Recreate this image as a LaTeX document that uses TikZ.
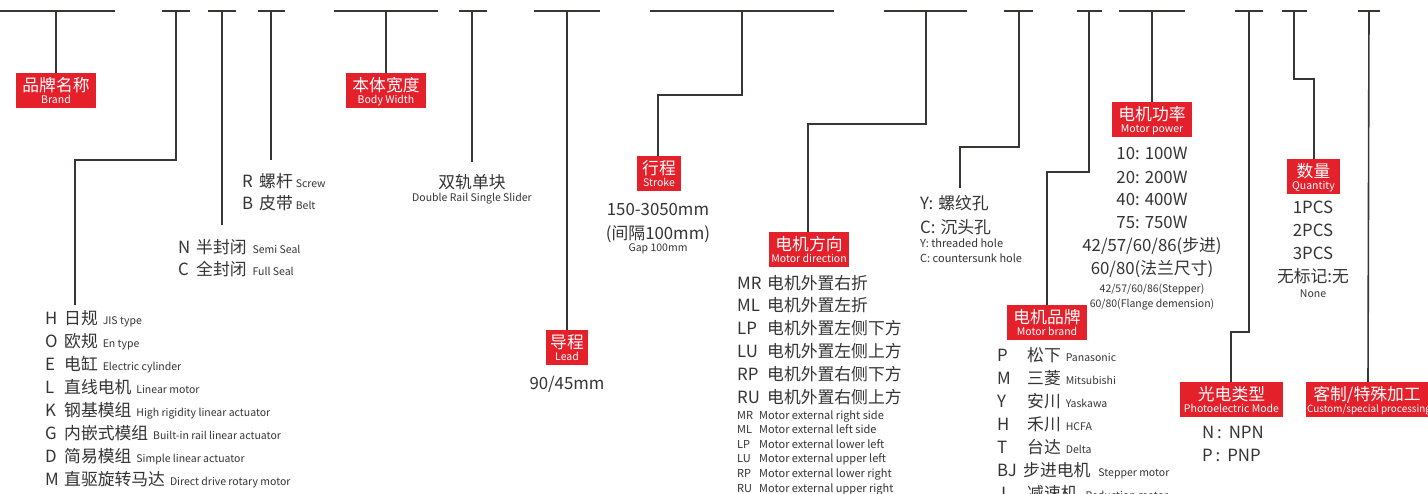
\documentclass[tikz,border=0pt]{standalone}
\usepackage{fontspec}
\setmainfont{Noto Sans CJK SC}
\usetikzlibrary{calc}
\definecolor{linec}{HTML}{3A3535}
\definecolor{redc}{HTML}{E4202B}
\definecolor{txtc}{HTML}{333333}
\newcommand\fcn{\fontsize{16.8}{18}\selectfont}
\newcommand\fen{\fontsize{10.5}{12}\selectfont}
\newcommand\fsm{\fontsize{11}{13}\selectfont}
\tikzset{
  ln/.style={draw=linec, line width=1.6pt},
  rbox/.style={fill=redc, inner sep=0pt, minimum height=35pt},
  wcn/.style={text=white, font=\fcn, anchor=base, inner sep=0pt},
  wen/.style={text=white, font=\fen, anchor=base, inner sep=0pt},
  tx/.style={text=txtc, font=\fcn, inner sep=0pt, anchor=base west},
  txc/.style={text=txtc, font=\fcn, inner sep=0pt, anchor=base},
  txs/.style={text=txtc, font=\fsm, inner sep=0pt, anchor=base west},
  txsc/.style={text=txtc, font=\fen, inner sep=0pt, anchor=base},
}
\newcommand\redlabel[6]{%
  \node[rbox, minimum width=#4pt, anchor=north] (#1) at (#2,#3) {};
  \node[wcn] (#1cn) at (#2,#3+18) {#5};
  \node[wen] (#1en) at (#2,#3+30.5) {#6};
}
\begin{document}
\begin{tikzpicture}[x=1pt,y=-1pt]
\useasboundingbox (0,0) rectangle (1428,493);
% ---------- top bars ----------
\foreach \a/\b/\n in {0/115/1,162/190/2,208/236/3,258/285/4,334/438/5,459/487/6,534/600/7,650/834/8,884/967/9,1004/1033/10,1077/1102/11,1119/1185/12,1235/1263/13,1282/1307/14,1358/1380/15}
  \draw[ln] (\a,11) -- (\b,11);
\coordinate (t1) at (56,11);
\coordinate (t2) at (176,11);
\coordinate (t3) at (222,11);
\coordinate (t4) at (271,11);
\coordinate (t5) at (386,11);
\coordinate (t6) at (472,11);
\coordinate (t7) at (567,11);
\coordinate (t8) at (742,11);
\coordinate (t9) at (926,11);
\coordinate (t10) at (1019,11);
\coordinate (t11) at (1089,11);
\coordinate (t12) at (1152,11);
\coordinate (t13) at (1249,11);
\coordinate (t14) at (1294,11);
\coordinate (t15) at (1369,11);
% ---------- red labels ----------
\redlabel{brand}{56}{73}{80}{品牌名称}{Brand}
\redlabel{width}{386}{73}{80}{本体宽度}{Body Width}
\redlabel{lead}{567}{330}{42}{导程}{Lead}
\redlabel{stroke}{659}{156}{44}{行程}{Stroke}
\redlabel{mdir}{809}{232}{80}{电机方向}{Motor direction}
\redlabel{mpow}{1152}{102}{80}{电机功率}{Motor power}
\redlabel{mbrand}{1047}{305}{80}{电机品牌}{Motor brand}
\redlabel{qty}{1313.5}{159}{53}{数量}{Quantity}
\redlabel{photo}{1231.5}{382}{103}{光电类型}{Photoelectric Mode}
\node[rbox, minimum width=125pt, anchor=north] (cust) at (1368,382) {};
\node[wcn] (custcn) at (1367,400) {客制/特殊加工};
\node[wen, anchor=base west, font=\fontsize{9.9}{12}\selectfont] (custen) at (1307,412.5) {Custom/special processing};
% ---------- end coordinates ----------
\coordinate (e2) at (75,305);
\coordinate (e3) at (222,225);
\coordinate (e4) at (271,160);
\coordinate (e6) at (472,162);
\coordinate (e10) at (960,188);
% ---------- connectors ----------
\draw[ln] (t1) -- (brand.north);
\draw[ln] (t2) -- (176,160) -| (e2);
\draw[ln] (t3) -- (e3);
\draw[ln] (t4) -- (e4);
\draw[ln] (t5) -- (width.north);
\draw[ln] (t6) -- (e6);
\draw[ln] (t7) -- (lead.north);
\draw[ln] (t8) -- (742,95) -| (658,156);
\draw[ln] (t9) -- (926,124) -| (808,232);
\draw[ln] (t10) -- (1019,147) -| (e10);
\draw[ln] (t11) -- (1089,172) -| (mbrand.north);
\draw[ln] (t12) -- (mpow.north);
\draw[ln] (t13) -- (1249,332) -| (1231,382);
\draw[ln] (t14) -- (1294,79) -| (1314,159);
\draw[ln] (t15) -- (cust.north);
% ---------- brand list ----------
\foreach \l/\c/\e [count=\i from 0] in {H/日规/JIS type,O/欧规/En type,E/电缸/Electric cylinder,L/直线电机/Linear motor,K/钢基模组/High rigidity linear actuator,G/内嵌式模组/Built-in rail linear actuator,D/简易模组/Simple linear actuator,M/直驱旋转马达/Direct drive rotary motor}{
  \node[tx] (bl\i) at (45,324+23*\i) {\l};
  \node[tx] (bc\i) at (64,324+23*\i) {\c\hspace{5pt}{\fen\e}};
}
% ---------- R/B ----------
\node[tx] (rl) at (242,187) {R};
\node[tx] (rc) at (259,187) {螺杆\hspace{3pt}{\fen Screw}};
\node[tx] (bbl) at (242,209) {B};
\node[tx] (bbc) at (259,209) {皮带\hspace{3pt}{\fen Belt}};
% ---------- N/C ----------
\node[tx] (nl) at (178,253) {N};
\node[tx] (nc) at (196,253) {半封闭\hspace{6pt}{\fen Semi Seal}};
\node[tx] (cl) at (178,275) {C};
\node[tx] (cc) at (196,275) {全封闭\hspace{6pt}{\fen Full Seal}};
% ---------- body width ----------
\node[txc] (dr) at (472,188) {双轨单块};
\node[txsc] (dren) at (472,201) {Double Rail Single Slider};
% ---------- lead ----------
\node[txc] (leadv) at (567,389) {90/45mm};
% ---------- stroke ----------
\node[txc] (s1) at (658,215) {150-3050mm};
\node[txc] (s2) at (658,239) {(间隔100mm)};
\node[txsc] (s3) at (658,251) {Gap 100mm};
% ---------- motor direction ----------
\foreach \l/\c [count=\i from 0] in {MR/电机外置右折,ML/电机外置左折,LP/电机外置左侧下方,LU/电机外置左侧上方,RP/电机外置右侧下方,RU/电机外置右侧上方}{
  \node[tx] (dl\i) at (737,289+22.8*\i) {\l};
  \node[tx] (dc\i) at (767,289+22.8*\i) {\c};
}
\foreach \l/\e [count=\i from 0] in {MR/Motor external right side,ML/Motor external left side,LP/Motor external lower left,LU/Motor external upper left,RP/Motor external lower right,RU/Motor external upper right}{
  \node[txs] (dsl\i) at (737,419+14.6*\i) {\l};
  \node[txs] (dse\i) at (759,419+14.6*\i) {\e};
}
% ---------- hole ----------
\node[tx] (hy) at (920,209) {Y:\hspace{5pt}螺纹孔};
\node[tx] (hc) at (920,233) {C:\hspace{5pt}沉头孔};
\node[txs] (hye) at (920,247) {Y: threaded hole};
\node[txs] (hce) at (920,262) {C: countersunk hole};
% ---------- motor power ----------
\node[txc] (p1) at (1152,159) {10:\hspace{5pt}100W};
\node[txc] (p2) at (1152,183) {20:\hspace{5pt}200W};
\node[txc] (p3) at (1152,205) {40:\hspace{5pt}400W};
\node[txc] (p4) at (1152,228) {75:\hspace{5pt}750W};
\node[txc] (p5) at (1152,251) {42/57/60/86(步进)};
\node[txc] (p6) at (1152,274) {60/80(法兰尺寸)};
\node[txsc] (p7) at (1152,292) {42/57/60/86(Stepper)};
\node[txsc] (p8) at (1152,307) {60/80(Flange demension)};
% ---------- motor brand ----------
\foreach \l/\c/\e [count=\i from 0] in {P/松下/Panasonic,M/三菱/Mitsubishi,Y/安川/Yaskawa,H/禾川/HCFA,T/台达/Delta}{
  \node[tx] (ml\i) at (997,361+23*\i) {\l};
  \node[tx] (mc\i) at (1027,361+23*\i) {\c\hspace{5pt}{\fen\e}};
}
\node[tx] (mlbj) at (997,476) {BJ};
\node[tx] (mcbj) at (1023,476) {步进电机\hspace{8pt}{\fen Stepper motor}};
\node[tx] (mlj) at (997,499) {J};
\node[tx] (mcj) at (1027,499) {减速机\hspace{8pt}{\fen Reduction motor}};
% ---------- quantity ----------
\node[txc] (q1) at (1313,213) {1PCS};
\node[txc] (q2) at (1313,236) {2PCS};
\node[txc] (q3) at (1313,259) {3PCS};
\node[txc] (q4) at (1313,282) {无标记:无};
\node[txsc] (q5) at (1313,297) {None};
% ---------- photoelectric ----------
\node[tx] (n1) at (1202,438) {N\,:\hspace{7pt}NPN};
\node[tx] (n2) at (1202,461) {P\,:\hspace{7pt}PNP};
\end{tikzpicture}
\end{document}
